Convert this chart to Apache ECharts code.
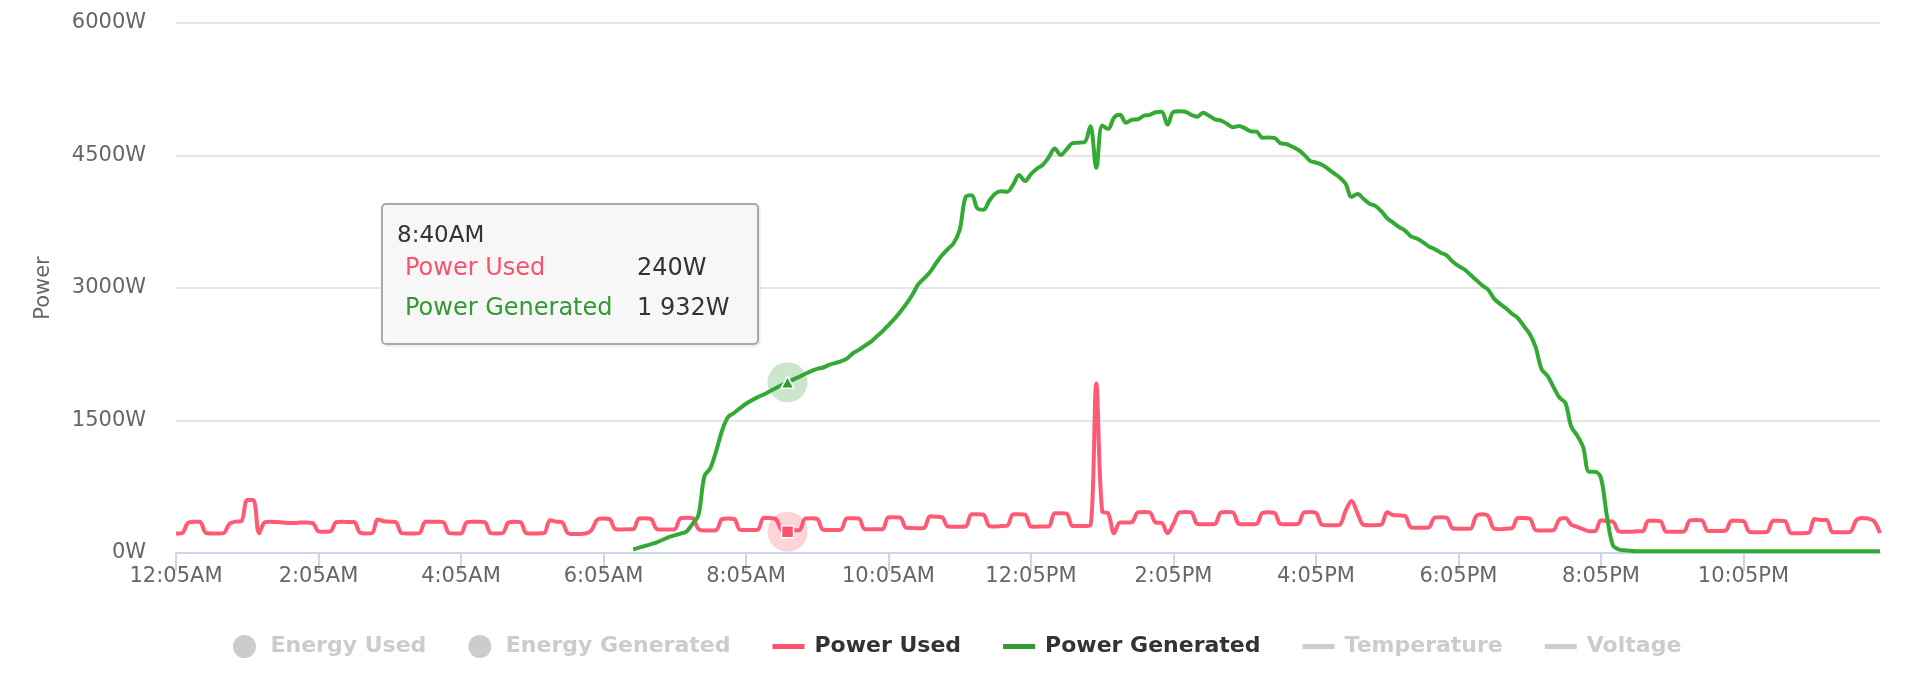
<!DOCTYPE html>
<html><head><meta charset="utf-8">
<script src="https://cdn.jsdelivr.net/npm/echarts@6/dist/echarts.min.js"></script>
<style>html,body{margin:0;padding:0;background:#fff}#chart{width:1928px;height:684px}</style>
</head><body><div id="chart"></div>
<script>
// 5-minute samples from 12:05AM to 12:00AM (288 points)
function timeLabel(minutes) {
  var m = minutes % 1440, h = Math.floor(m / 60), mm = m % 60;
  var ap = h < 12 ? 'AM' : 'PM', h12 = h % 12 === 0 ? 12 : h % 12;
  return h12 + ':' + (mm < 10 ? '0' : '') + mm + ap;
}
var categories = [];
for (var i = 0; i < 288; i++) categories.push(timeLabel(5 + i * 5));

var yTicks = [0, 1500, 3000, 4500, 6000];

var powerUsed = [
  220,225,340,355,355,230,222,222,225,330,355,360,
  600,600,225,350,355,350,345,340,340,345,345,340,
  245,240,245,350,355,350,350,230,222,225,380,360,
  355,350,225,222,222,225,355,355,355,350,225,222,
  222,350,355,355,350,225,222,225,345,355,350,225,
  220,222,225,370,355,350,225,215,215,220,260,380,
  390,385,270,265,270,268,390,393,385,270,265,265,
  268,395,400,395,270,255,255,260,385,390,385,262,
  260,260,265,400,395,385,260,240,255,260,390,393,
  385,262,260,260,265,393,393,390,270,268,268,270,
  405,405,400,285,283,280,285,415,410,405,300,298,
  298,300,440,440,435,305,300,305,310,440,440,435,
  300,298,300,300,450,450,445,305,305,305,310,1920,
  470,450,225,345,345,350,460,465,460,345,340,225,
  330,460,465,460,330,325,325,330,460,465,460,330,
  325,325,330,455,460,455,330,325,325,330,460,465,
  455,320,313,313,320,480,590,450,320,315,315,320,
  460,430,425,420,290,285,285,290,400,405,400,280,
  275,275,275,420,440,420,275,270,275,280,395,395,
  390,260,255,255,260,380,395,320,295,270,245,245,
  370,360,355,245,240,240,245,245,365,365,360,240,
  240,240,245,370,375,370,250,250,250,255,365,365,
  360,240,235,235,240,365,365,360,225,225,225,230,
  385,375,375,235,235,235,240,370,395,390,360,225
];

var powerGenerated = [
  null,null,null,null,null,null,null,null,null,null,null,null,
  null,null,null,null,null,null,null,null,null,null,null,null,
  null,null,null,null,null,null,null,null,null,null,null,null,
  null,null,null,null,null,null,null,null,null,null,null,null,
  null,null,null,null,null,null,null,null,null,null,null,null,
  null,null,null,null,null,null,null,null,null,null,null,null,
  null,null,null,null,null,40,60,80,100,121,150,180,
  200,220,245,330,430,870,960,1160,1390,1540,1585,1640,
  1690,1730,1765,1795,1830,1865,1900,1932,1965,1995,2030,2060,
  2085,2100,2130,2150,2170,2200,2260,2300,2345,2390,2450,2510,
  2580,2650,2730,2820,2920,3040,3110,3180,3280,3370,3440,3510,
  3660,4030,4050,3900,3885,3990,4070,4095,4090,4170,4280,4210,
  4290,4350,4395,4480,4580,4505,4570,4640,4645,4650,4830,4360,
  4840,4800,4930,4960,4870,4905,4910,4950,4960,4990,4995,4850,
  4995,5000,4995,4960,4940,4985,4950,4910,4895,4860,4820,4835,
  4810,4775,4770,4700,4705,4700,4640,4630,4600,4565,4510,4440,
  4420,4395,4350,4300,4250,4180,4030,4065,4010,3955,3930,3870,
  3790,3740,3690,3650,3585,3560,3520,3470,3440,3400,3370,3300,
  3250,3210,3150,3090,3030,2980,2880,2820,2770,2710,2660,2570,
  2480,2330,2080,2005,1880,1760,1700,1430,1330,1200,920,920,
  850,420,90,40,30,25,20,20,20,20,20,20,
  20,20,20,20,20,20,20,20,20,20,20,20,
  20,20,20,20,20,20,20,20,20,20,20,20,
  20,20,20,20,20,20,20,20,20,20,20,20
];

var legendNames = ['Energy Used', 'Energy Generated', 'Power Used', 'Power Generated', 'Temperature', 'Voltage'];
var hoverIndex = 103; // 8:40AM

var RED = '#f9526a', GREEN = '#2f9b30';
var FONT = 'DejaVu Sans';
var LINE_ICON = 'path://M0,0H32V5H0Z';

function fmtW(v) {
  var s = String(Math.round(v));
  if (s.length > 3) s = s.slice(0, s.length - 3) + ' ' + s.slice(s.length - 3);
  return s + 'W';
}

var chart = echarts.init(document.getElementById('chart'));
var option = {
  animation: false,
  textStyle: { fontFamily: FONT },
  grid: { left: 176, right: 48, top: 23, bottom: 131 },
  legend: {
    left: 228, top: 630,
    itemWidth: 32, itemHeight: 23, itemGap: 42,
    symbolKeepAspect: true,
    inactiveColor: '#cccccc',
    textStyle: { fontFamily: FONT, fontSize: 22, fontWeight: 'bold', color: '#333333', padding: [0, 0, 0, 5] },
    selected: { 'Energy Used': false, 'Energy Generated': false, 'Temperature': false, 'Voltage': false },
    data: [
      { name: legendNames[0], icon: 'circle' },
      { name: legendNames[1], icon: 'circle' },
      { name: legendNames[2], icon: LINE_ICON },
      { name: legendNames[3], icon: LINE_ICON },
      { name: legendNames[4], icon: LINE_ICON },
      { name: legendNames[5], icon: LINE_ICON }
    ]
  },
  tooltip: {
    trigger: 'axis',
    triggerOn: 'none',
    alwaysShowContent: true,
    axisPointer: { type: 'none' },
    position: [381, 203],
    transitionDuration: 0,
    padding: 0,
    borderWidth: 2,
    borderColor: '#a9a9a9',
    backgroundColor: 'rgba(247,247,247,0.96)',
    extraCssText: 'width:378px;height:142px;box-sizing:border-box;border-radius:5px;box-shadow:1px 1px 3px rgba(0,0,0,0.12);',
    formatter: function () {
      var i = hoverIndex;
      return '<div style="position:relative;width:374px;height:138px;font-family:\'DejaVu Sans\';font-size:24px;line-height:24px;color:#333">' +
        '<div style="position:absolute;left:14px;top:17px;font-size:23px;">' + categories[i] + '</div>' +
        '<div style="position:absolute;left:22px;top:50px;color:' + RED + ';">Power Used</div>' +
        '<div style="position:absolute;left:254px;top:50px;">' + fmtW(powerUsed[i]) + '</div>' +
        '<div style="position:absolute;left:22px;top:90px;color:' + GREEN + ';">Power Generated</div>' +
        '<div style="position:absolute;left:254px;top:90px;">' + fmtW(powerGenerated[i]) + '</div>' +
        '</div>';
    }
  },
  xAxis: {
    type: 'category',
    boundaryGap: false,
    data: categories,
    axisLine: { lineStyle: { color: '#ccd6eb', width: 2 } },
    axisTick: { interval: 23, length: 18, lineStyle: { color: '#ccd6eb', width: 2 } },
    axisLabel: { interval: 23, color: '#666666', fontSize: 21, margin: 13, fontFamily: FONT },
    splitLine: { show: false }
  },
  yAxis: {
    type: 'value',
    min: yTicks[0], max: yTicks[yTicks.length - 1], interval: yTicks[1] - yTicks[0],
    name: 'Power', nameLocation: 'middle', nameGap: 122, nameRotate: 90,
    nameTextStyle: { color: '#666666', fontSize: 21, fontFamily: FONT },
    axisLabel: { formatter: function (v) { return v + 'W'; }, color: '#666666', fontSize: 21, margin: 30, fontFamily: FONT, padding: [2, 0, 0, 0] },
    axisLine: { show: false },
    axisTick: { show: false },
    splitLine: { lineStyle: { color: '#e6e6e6', width: 2 } }
  },
  series: [
    { name: legendNames[0], type: 'bar', data: [], itemStyle: { color: '#7cb5ec' } },
    { name: legendNames[1], type: 'bar', data: [], itemStyle: { color: '#90ed7d' } },
    {
      name: legendNames[2], type: 'line', data: powerUsed, smooth: 0.35, symbol: 'none',
      lineStyle: { width: 4, color: RED }, itemStyle: { color: RED },
      markPoint: {
        silent: true, animation: false, label: { show: false },
        data: [
          { coord: [categories[hoverIndex], powerUsed[hoverIndex]], symbol: 'circle', symbolSize: 40, itemStyle: { color: 'rgba(249,82,106,0.25)' } },
          { coord: [categories[hoverIndex], powerUsed[hoverIndex]], symbol: 'rect', symbolSize: 12, itemStyle: { color: RED, borderColor: '#ffffff', borderWidth: 1.5 } }
        ]
      }
    },
    {
      name: legendNames[3], type: 'line', data: powerGenerated, smooth: 0.35, symbol: 'none',
      lineStyle: { width: 4, color: GREEN }, itemStyle: { color: GREEN },
      markPoint: {
        silent: true, animation: false, label: { show: false },
        data: [
          { coord: [categories[hoverIndex], powerGenerated[hoverIndex]], symbol: 'circle', symbolSize: 40, itemStyle: { color: 'rgba(47,155,48,0.25)' } },
          { coord: [categories[hoverIndex], powerGenerated[hoverIndex]], symbol: 'triangle', symbolSize: [13, 12], itemStyle: { color: GREEN, borderColor: '#ffffff', borderWidth: 1.5 } }
        ]
      }
    },
    { name: legendNames[4], type: 'line', data: [], symbol: 'none', lineStyle: { width: 4, color: '#8085e9' }, itemStyle: { color: '#8085e9' } },
    { name: legendNames[5], type: 'line', data: [], symbol: 'none', lineStyle: { width: 4, color: '#f7a35c' }, itemStyle: { color: '#f7a35c' } }
  ]
};
chart.setOption(option);
chart.dispatchAction({ type: 'showTip', seriesIndex: 2, dataIndex: hoverIndex });
</script></body></html>
